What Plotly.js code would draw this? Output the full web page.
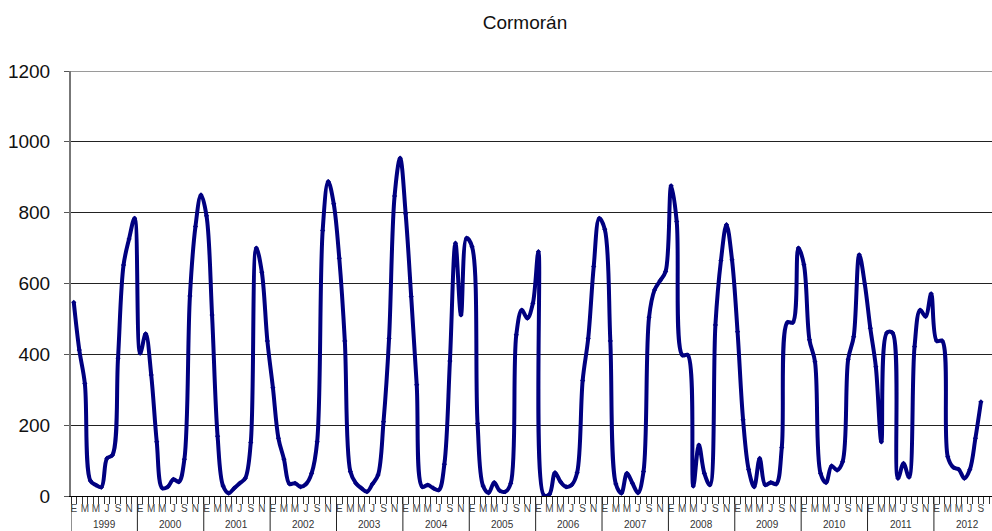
<!DOCTYPE html>
<html>
<head>
<meta charset="utf-8">
<script src="https://cdn.plot.ly/plotly-3.0.1.min.js"></script>
<style>
html,body{margin:0;padding:0;overflow:hidden;background:#fff;}
#chart{width:992px;height:531px;}
</style>
</head>
<body>
<div id="chart"></div>
<script>
// ---- data ----
const chartTitle = 'Cormorán';
const years = [1999,2000,2001,2002,2003,2004,2005,2006,2007,2008,2009,2010,2011,2012];
const monthLetters = ['E','F','M','A','M','J','J','A','S','O','N','D'];
const yTicks = [0,200,400,600,800,1000,1200];

const v1999 = [547,412,318,43,31,25,106,116,389,652,726,784];
const v2000 = [403,458,342,153,22,26,47,40,104,565,761,850];
const v2001 = [791,511,169,28,8,22,36,50,151,700,632,438];
const v2002 = [306,163,104,34,36,26,34,64,153,750,888,825];
const v2003 = [671,438,69,36,22,12,34,59,210,445,847,954];
const v2004 = [797,563,314,26,31,22,17,90,381,714,511,728];
const v2005 = [704,205,28,9,38,15,12,36,455,525,502,544];
const v2006 = [690,2,5,66,40,26,31,66,326,445,648,784];
const v2007 = [753,438,34,8,64,36,9,69,505,582,608,634];
const v2008 = [876,775,398,398,28,144,64,31,483,665,766,667];
const v2009 = [464,215,75,26,106,31,38,34,137,490,490,700];
const v2010 = [653,441,379,64,38,85,73,97,386,450,681,599];
const v2011 = [474,365,153,461,461,50,92,53,422,525,507,571];
const v2012 = [438,438,111,81,75,50,75,163,266];

// ---- build ----
const values = [].concat(v1999,v2000,v2001,v2002,v2003,v2004,v2005,v2006,v2007,v2008,v2009,v2010,v2011,v2012);
const xIdx = values.map((_, i) => i);
const nCats = years.length * 12;

const labelVals = [], labelText = [];
for (let i = 0; i < nCats; i += 2) { labelVals.push(i); labelText.push(monthLetters[i % 12]); }
const boundaryVals = [];
for (let i = 0; i <= nCats; i++) boundaryVals.push(i - 0.5);

const xRange = [-0.5, 166.0];

const shapes = years.map((y, k) => ({
  type: 'line', xref: 'x', yref: 'paper',
  x0: k * 12 - 0.5, x1: k * 12 - 0.5, y0: 0, y1: -0.09,
  line: {color: '#222', width: 1}
}));
shapes.push({type: 'line', xref: 'paper', yref: 'y', x0: 0, x1: 1, y0: 1200, y1: 1200,
  line: {color: '#9a9a9a', width: 2}, layer: 'above'});

const annotations = years.map((y, k) => ({
  x: k * 12 + 5.5, xref: 'x', y: -0.066, yref: 'paper',
  text: String(y), showarrow: false, xanchor: 'center', yanchor: 'middle',
  font: {family: 'Liberation Sans, Arial, sans-serif', size: 10, color: '#333'}
}));

const trace = {
  x: xIdx, y: values, type: 'scatter', mode: 'lines+markers',
  line: {color: '#000080', width: 4, shape: 'spline', smoothing: 1},
  marker: {color: '#000080', size: 4, symbol: 'diamond'},
  hoverinfo: 'y'
};
const tickTrace = {x: [0], y: [null], xaxis: 'x2', yaxis: 'y', type: 'scatter', mode: 'lines', showlegend: false, hoverinfo: 'skip'};

const layout = {
  width: 992, height: 531,
  margin: {l: 71, r: 0, t: 71, b: 35},
  paper_bgcolor: '#fff', plot_bgcolor: '#fff',
  showlegend: false,
  title: {
    text: chartTitle, x: 525 / 992, xref: 'container', xanchor: 'center',
    y: 1 - 22 / 531, yref: 'container', yanchor: 'middle',
    font: {family: 'Liberation Sans, Arial, sans-serif', size: 19, color: '#111'}
  },
  xaxis: {
    range: xRange, tickmode: 'array', tickvals: labelVals, ticktext: labelText,
    ticks: '', tickangle: 0, showgrid: false, zeroline: false,
    showline: true, linecolor: '#000', linewidth: 1,
    tickfont: {family: 'Liberation Sans Narrow, Arial Narrow, Liberation Sans, sans-serif', size: 10, color: '#444'},
    ticklabelstandoff: 3
  },
  xaxis2: {
    range: xRange, overlaying: 'x', anchor: 'y', side: 'bottom',
    tickmode: 'array', tickvals: boundaryVals, ticks: 'outside', ticklen: 7,
    tickcolor: '#333', tickwidth: 1, showticklabels: false, showgrid: false,
    zeroline: false, showline: false
  },
  yaxis: {
    range: [0, 1200], tickmode: 'array', tickvals: yTicks,
    showgrid: true, gridcolor: '#222', gridwidth: 1, zeroline: false,
    showline: true, linecolor: '#777', linewidth: 2,
    ticks: 'outside', ticklen: 5, tickcolor: '#555',
    tickfont: {family: 'Liberation Sans, Arial, sans-serif', size: 19, color: '#111'},
    ticklabelstandoff: 10
  },
  shapes: shapes,
  annotations: annotations
};

Plotly.newPlot('chart', [trace, tickTrace], layout, {displayModeBar: false, staticPlot: true});
</script>
</body>
</html>
